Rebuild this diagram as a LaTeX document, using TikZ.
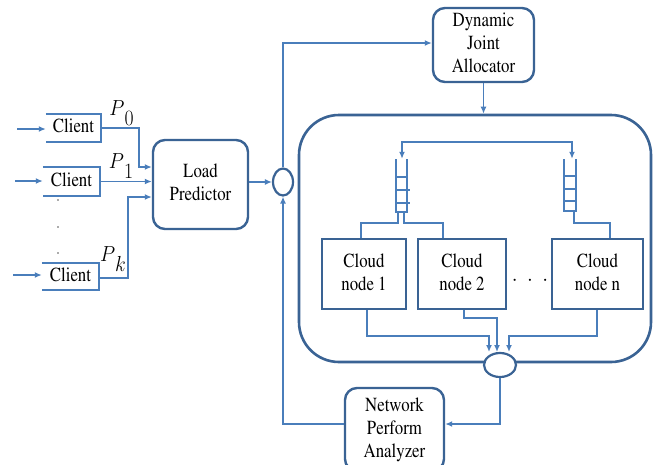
\documentclass[tikz,border=0pt]{standalone}
\usepackage[T1]{fontenc}
\renewcommand{\rmdefault}{ptm}
\usetikzlibrary{arrows.meta,calc,shapes.geometric}
\definecolor{boxc}{HTML}{3A6394}
\definecolor{linec}{HTML}{4A7EBB}
\newcommand{\sq}[1]{\scalebox{0.84}[1]{\begin{tabular}{@{}c@{}}#1\end{tabular}}}
\begin{document}
\begin{tikzpicture}[x=1pt,y=-1pt,
  txt/.style={font=\rmfamily\fontsize{20}{23}\selectfont, inner sep=0pt},
  rbox/.style={draw=boxc, line width=2.4pt, rounded corners=12pt, txt, fill=white},
  sbox/.style={draw=boxc, line width=2.4pt, txt, fill=white},
  conn/.style={draw=linec, line width=1.4pt, -{Latex[length=7pt,width=6pt]}},
  plainln/.style={draw=linec, line width=1.8pt},
  ov/.style={draw=boxc, line width=2.2pt, ellipse, fill=white, inner sep=0pt},
  qline/.style={draw=linec, line width=1.8pt}]
\fill[white] (0,0) rectangle (653,464);
\useasboundingbox (0,0) rectangle (653,464);

% clients
\node[txt, minimum width=55, minimum height=27] (c0) at (73.5,128) {\sq{Client}};
\node[txt, minimum width=57, minimum height=29] (c1) at (71.5,181.5) {\sq{Client}};
\node[txt, minimum width=57, minimum height=27] (ck) at (70.5,276.5) {\sq{Client}};
\foreach \c in {c0,c1,ck}{
  \draw[plainln] (\c.north west) -- (\c.north east) -- (\c.south east) -- (\c.south west);
}
\coordinate (i0) at (17,129);
\coordinate (i1) at (15,181);
\coordinate (ik) at (13,275);
\draw[conn] (i0) -- (c0.west |- i0);
\draw[conn] (i1) -- (c1.west |- i1);
\draw[conn] (ik) -- (ck.west |- ik);

% vertical dots
\foreach \yy in {200,227,253}{\fill[gray!70!black] (58,\yy) circle (0.9);}

% P labels
\node[txt] (p0) at (121.5,113) {\scalebox{0.95}[1.05]{$P$\raisebox{-9pt}{$0$}}};
\node[txt] (p1) at (121,166) {\scalebox{0.95}[1.05]{$P$\raisebox{-9pt}{$1$}}};
\node[txt] (pk) at (113,259) {\scalebox{0.95}[1.05]{$P$\raisebox{-9pt}{$k$}}};

% load predictor
\node[rbox, minimum width=95, minimum height=89] (lp) at (200.5,184.5) {\sq{Load\\Predictor}};
\coordinate (j0) at (139,128);
\coordinate (jk) at (128,278);
\draw[conn] (c0.east |- j0) -- (j0) -- (j0 |- 0,167) -- (lp.west |- 0,167);
\draw[conn] (c1.east) -- (lp.west |- c1.east);
\draw[conn] (ck.east |- jk) -- (jk) -- (jk |- 0,197) -- (lp.west |- 0,197);

% small oval
\node[ov, minimum width=20, minimum height=27] (o1) at (283,182) {};
\draw[conn] (lp.east |- o1.west) -- (o1.west);

% dynamic joint allocator
\node[rbox, minimum width=101, minimum height=74] (dja) at (483.5,45) {\sq{Dynamic\\Joint\\Allocator}};
\draw[conn] (o1.north) -- (o1.north |- 0,43) -- (dja.west |- 0,43);

% big cloud container
\node[draw=boxc, line width=2.6pt, rounded corners=40pt, minimum width=352, minimum height=247] (cloud) at (475,238.5) {};
\draw[conn] (dja.south) -- (dja.south |- cloud.north);

% queues
\node[minimum width=11, minimum height=53, inner sep=0pt] (q1) at (401.5,185.5) {};
\node[minimum width=12, minimum height=52, inner sep=0pt] (q2) at (570,185) {};
\draw[qline] (396,159) -- (396,212) -- (407,212) -- (407,159);
\draw[qline] (396,177) -- (407,177);
\draw[qline] (396,190) -- (410,190);
\draw[qline] (396,203) -- (410,203);
\draw[qline] (564,159) -- (564,211) -- (576,211) -- (576,159);
\draw[qline] (564,176) -- (576,176);
\draw[qline] (564,189) -- (576,189);
\draw[qline] (564,201) -- (576,201);
\draw[draw=linec, line width=1.4pt, {Latex[length=7pt,width=6pt]}-{Latex[length=7pt,width=6pt]}]
  (q1.north -| 402,0) -- (402,142) -- (572,142) -- (q2.north -| 572,0);

% cloud nodes
\node[sbox, minimum width=84, minimum height=70] (n1) at (364,274) {\sq{Cloud\\node 1}};
\node[sbox, minimum width=88, minimum height=70] (n2) at (462,274) {\sq{Cloud\\node 2}};
\node[sbox, minimum width=91, minimum height=70] (nn) at (597.5,274) {\sq{Cloud\\node n}};
\node[txt] (dots) at (530,281) {$\cdot\ \cdot\ \cdot$};

\draw[plainln] (398,212) -- (398,223) -- (361,223) -- (n1.north -| 361,0);
\draw[plainln] (404,212) -- (404,223) -- (443,223) -- (n2.north -| 443,0);
\draw[plainln] (574,211) -- (574,223) -- (610,223) -- (nn.north -| 610,0);

% bottom oval
\node[ov, minimum width=32, minimum height=24] (o2) at (500,365) {};
\draw[conn] (n1.south -| 367,0) -- (367,336) -- (489,336) -- (489,352);
\draw[conn] (n2.south -| 464,0) -- (464,318) -- (497,318) -- (497,352);
\draw[conn] (nn.south -| 597,0) -- (597,336) -- (509,336) -- (509,352);

% network perform analyzer
\node[rbox, minimum width=99, minimum height=83] (npa) at (394.5,429.5) {\sq{Network\\Perform\\Analyzer}};
\draw[conn] (o2.south) -- (o2.south |- 0,424) -- (npa.east |- 0,424);
\draw[conn] (npa.west |- 0,424) -- (o1.south |- 0,424) -- (o1.south);
\end{tikzpicture}
\end{document}
